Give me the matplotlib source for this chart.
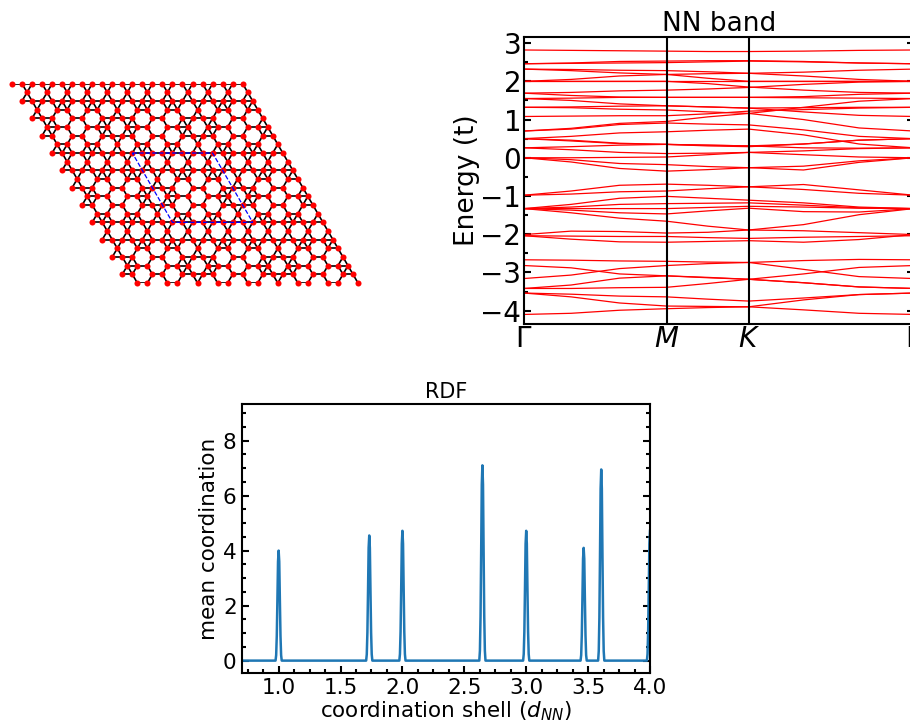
import numpy as np
import matplotlib
matplotlib.use("Agg")
import matplotlib.pyplot as plt
from matplotlib.collections import LineCollection
from matplotlib.ticker import MultipleLocator

# lattice: occupied columns of each row of the 8x8 supercell
cell_rows = [
    [0, 1, 2, 3, 4, 5, 6, 7],
    [1, 3, 5, 7],
    [0, 1, 2, 3, 4, 5, 6, 7],
    [1, 3, 4, 6, 7],
    [0, 1, 2, 4, 5, 7],
    [1, 2, 3, 5, 6, 7],
    [0, 1, 3, 4, 6, 7],
    [1, 2, 4, 5, 7],
]
n_rows = 24
n_cols = 24
cell_box = [(8, 8), (8, 16), (16, 16), (16, 8), (8, 8)]

# band structure, read at these k positions
k_path = [0, 0.33, 0.67, 1, 1.29, 1.577, 1.96, 2.35, 2.732]
k_ticks = [0, 1, 1.577, 2.732]
k_labels = [r"$\Gamma$", r"$M$", r"$K$", r"$\Gamma$"]

band_01 = [2.82, 2.81, 2.80, 2.79, 2.78, 2.78, 2.79, 2.81, 2.82]
band_02 = [2.46, 2.48, 2.52, 2.53, 2.54, 2.54, 2.52, 2.48, 2.46]
band_03 = [2.46, 2.47, 2.48, 2.49, 2.51, 2.53, 2.51, 2.48, 2.46]
band_04 = [2.32, 2.31, 2.29, 2.28, 2.25, 2.21, 2.24, 2.29, 2.32]
band_05 = [2.32, 2.28, 2.22, 2.18, 2.08, 2.00, 2.00, 2.00, 2.00]
band_06 = [2.00, 2.05, 2.14, 2.18, 2.20, 2.21, 2.14, 2.05, 2.00]
band_07 = [2.00, 2.00, 2.00, 2.00, 2.00, 2.00, 2.00, 2.00, 2.00]
band_08 = [2.00, 2.00, 2.00, 2.00, 1.94, 1.85, 1.77, 1.71, 1.69]
band_09 = [1.69, 1.71, 1.75, 1.77, 1.80, 1.84, 1.92, 1.98, 2.00]
band_10 = [1.69, 1.63, 1.59, 1.58, 1.58, 1.58, 1.60, 1.66, 1.69]
band_11 = [1.55, 1.56, 1.58, 1.58, 1.58, 1.58, 1.57, 1.56, 1.55]
band_12 = [1.55, 1.50, 1.41, 1.36, 1.33, 1.30, 1.20, 1.11, 1.08]
band_13 = [1.32, 1.33, 1.35, 1.36, 1.33, 1.30, 1.31, 1.32, 1.32]
band_14 = [1.32, 1.31, 1.27, 1.25, 1.20, 1.16, 1.32, 1.48, 1.55]
band_15 = [1.08, 1.09, 1.10, 1.10, 1.15, 1.22, 1.26, 1.30, 1.32]
band_16 = [0.70, 0.77, 0.90, 0.95, 1.07, 1.16, 1.00, 0.78, 0.70]
band_17 = [0.70, 0.75, 0.87, 0.91, 0.88, 0.86, 0.73, 0.56, 0.50]
band_18 = [0.50, 0.56, 0.65, 0.68, 0.72, 0.75, 0.60, 0.36, 0.26]
band_19 = [0.50, 0.46, 0.38, 0.35, 0.33, 0.31, 0.36, 0.46, 0.50]
band_20 = [0.26, 0.29, 0.33, 0.35, 0.33, 0.31, 0.26, 0.25, 0.26]
band_21 = [0.50, 0.44, 0.37, 0.35, 0.31, 0.29, 0.36, 0.46, 0.50]
band_22 = [0.26, 0.21, 0.14, 0.11, 0.12, 0.14, 0.08, 0.02, 0.00]
band_23 = [0.00, 0.00, 0.01, 0.02, 0.08, 0.14, 0.18, 0.24, 0.26]
band_24 = [0.00, -0.05, -0.15, -0.18, -0.23, -0.26, -0.22, -0.08, 0.00]
band_25 = [0.00, -0.11, -0.28, -0.35, -0.31, -0.26, -0.32, -0.12, 0.00]
band_26 = [-0.98, -0.87, -0.72, -0.69, -0.72, -0.76, -0.70, -0.84, -0.98]
band_27 = [-0.98, -0.95, -0.89, -0.87, -0.81, -0.76, -0.83, -0.93, -0.98]
band_28 = [-1.33, -1.22, -1.06, -1.01, -1.06, -1.11, -1.18, -1.29, -1.33]
band_29 = [-1.33, -1.29, -1.22, -1.20, -1.19, -1.18, -1.24, -1.31, -1.33]
band_30 = [-1.33, -1.33, -1.33, -1.33, -1.30, -1.27, -1.29, -1.32, -1.33]
band_31 = [-1.33, -1.37, -1.44, -1.47, -1.39, -1.32, -1.41, -1.42, -1.33]
band_32 = [-1.33, -1.44, -1.58, -1.66, -1.79, -1.89, -1.75, -1.49, -1.33]
band_33 = [-2.01, -1.92, -1.93, -1.97, -1.95, -1.89, -1.91, -1.96, -2.01]
band_34 = [-2.04, -2.05, -2.06, -2.06, -2.09, -2.11, -2.08, -2.06, -2.04]
band_35 = [-2.04, -2.13, -2.20, -2.21, -2.19, -2.17, -2.21, -2.14, -2.01]
band_36 = [-2.67, -2.68, -2.70, -2.71, -2.73, -2.74, -2.69, -2.66, -2.67]
band_37 = [-2.82, -2.88, -3.04, -3.09, -3.14, -3.18, -3.04, -2.87, -2.82]
band_38 = [-3.16, -3.07, -2.90, -2.82, -2.77, -2.74, -2.92, -3.11, -3.16]
band_39 = [-3.42, -3.33, -3.15, -3.09, -3.13, -3.18, -3.27, -3.38, -3.42]
band_40 = [-3.42, -3.42, -3.40, -3.39, -3.29, -3.18, -3.27, -3.38, -3.42]
band_41 = [-3.54, -3.57, -3.62, -3.64, -3.70, -3.75, -3.67, -3.58, -3.54]
band_42 = [-3.54, -3.64, -3.80, -3.88, -3.89, -3.90, -3.72, -3.58, -3.54]
band_43 = [-4.10, -4.07, -3.99, -3.95, -3.92, -3.90, -3.98, -4.07, -4.10]
bands = [band_01, band_02, band_03, band_04, band_05, band_06, band_07, band_08, band_09,
         band_10, band_11, band_12, band_13, band_14, band_15, band_16, band_17, band_18,
         band_19, band_20, band_21, band_22, band_23, band_24, band_25, band_26, band_27,
         band_28, band_29, band_30, band_31, band_32, band_33, band_34, band_35, band_36,
         band_37, band_38, band_39, band_40, band_41, band_42, band_43]

# radial distribution
rdf_x = [0.70, 0.975, 0.98, 0.985, 0.99, 0.995, 1.000, 1.005, 1.01, 1.015, 1.02, 1.025,
         1.707, 1.712, 1.717, 1.722, 1.727, 1.732, 1.737, 1.742, 1.747, 1.752, 1.757,
         1.975, 1.98, 1.985, 1.99, 1.995, 2.000, 2.005, 2.01, 2.015, 2.02, 2.025,
         2.621, 2.626, 2.631, 2.636, 2.641, 2.646, 2.651, 2.656, 2.661, 2.666, 2.671,
         2.975, 2.98, 2.985, 2.99, 2.995, 3.000, 3.005, 3.01, 3.015, 3.02, 3.025,
         3.439, 3.444, 3.449, 3.454, 3.459, 3.464, 3.469, 3.474, 3.479, 3.484, 3.489,
         3.581, 3.586, 3.591, 3.596, 3.601, 3.606, 3.611, 3.616, 3.621, 3.626, 3.631,
         3.975, 3.98, 3.985, 3.99, 3.995, 4.000]
rdf_y = [0, 0, 0.20, 0.90, 2.20, 3.60, 4.00, 3.60, 2.20, 0.90, 0.20, 0,
         0, 0.23, 1.02, 2.50, 4.10, 4.55, 4.10, 2.50, 1.02, 0.23, 0,
         0, 0.24, 1.06, 2.60, 4.25, 4.72, 4.25, 2.60, 1.06, 0.24, 0,
         0, 0.36, 1.60, 3.90, 6.40, 7.10, 6.40, 3.90, 1.60, 0.36, 0,
         0, 0.24, 1.06, 2.60, 4.25, 4.72, 4.25, 2.60, 1.06, 0.24, 0,
         0, 0.20, 0.92, 2.25, 3.70, 4.10, 3.70, 2.25, 0.92, 0.20, 0,
         0, 0.35, 1.56, 3.80, 6.25, 6.95, 6.25, 3.80, 1.56, 0.35, 0,
         0, 0.24, 1.06, 2.60, 4.25, 4.72]

W, H = 910, 725


def px_axes(fig, left, top, right, bottom):
    return fig.add_axes([left / W, 1 - bottom / H, (right - left) / W, (bottom - top) / H])


def style_axes(ax, size):
    ax.tick_params(which="major", direction="in", length=5, width=1.5, labelsize=size,
                   left=True, right=True, bottom=True, top=False)
    ax.tick_params(which="minor", direction="in", length=3, width=1.5,
                   left=True, right=True, bottom=True, top=False)
    for s in ax.spines.values():
        s.set_linewidth(1.5)


fig = plt.figure(figsize=(W / 100, H / 100), dpi=100)

# lattice
ax0 = px_axes(fig, 12, 83.7, 358, 283)
sites = []
for r in range(n_rows):
    for c in range(n_cols):
        if c % 8 in cell_rows[r % 8]:
            sites.append((c + r / 2, -r * np.sqrt(3) / 2))
sites = np.array(sites)
dist = np.hypot(sites[:, None, 0] - sites[None, :, 0], sites[:, None, 1] - sites[None, :, 1])
i_idx, j_idx = np.where(np.triu(np.abs(dist - 1) < 0.01))
segs = [(sites[i], sites[j]) for i, j in zip(i_idx, j_idx)]
ax0.add_collection(LineCollection(segs, colors="k", linewidths=1.2, zorder=1))
ax0.scatter(sites[:, 0], sites[:, 1], s=19, c="red", linewidths=0, zorder=2, clip_on=False)
box = np.array([(c + r / 2, -r * np.sqrt(3) / 2) for r, c in cell_box])
ax0.plot(box[:, 0], box[:, 1], color="blue", lw=0.9, ls="--", zorder=3)
ax0.set_xlim(0, 34.5)
ax0.set_ylim(-23 * np.sqrt(3) / 2, 0)
ax0.axis("off")

# bands
ax1 = px_axes(fig, 524, 37, 913.5, 324)
for b in bands:
    ax1.plot(k_path, b, color="red", lw=0.9)
for k in k_ticks[1:-1]:
    ax1.axvline(k, color="k", lw=1.5)
ax1.set_xlim(k_ticks[0], k_ticks[-1])
ax1.set_ylim(-4.35, 3.16)
ax1.set_xticks(k_ticks)
ax1.set_xticklabels(k_labels)
ax1.yaxis.set_major_locator(MultipleLocator(1))
ax1.yaxis.set_minor_locator(MultipleLocator(0.5))
style_axes(ax1, 20)
ax1.tick_params(axis="x", which="major", length=0, pad=1)
ax1.tick_params(axis="y", which="major", pad=2)
ax1.set_ylabel("Energy (t)", fontsize=19, labelpad=0)
ax1.set_title("NN band", fontsize=19, pad=3)

# rdf
ax2 = px_axes(fig, 241.5, 404, 650, 673)
ax2.plot(rdf_x, rdf_y, color="tab:blue", lw=1.8)
ax2.set_xlim(0.7, 4.0)
ax2.set_ylim(-0.45, 9.33)
ax2.xaxis.set_major_locator(MultipleLocator(0.5))
ax2.xaxis.set_minor_locator(MultipleLocator(0.125))
ax2.yaxis.set_major_locator(MultipleLocator(2))
ax2.yaxis.set_minor_locator(MultipleLocator(0.5))
style_axes(ax2, 15.5)
ax2.set_xlabel(r"coordination shell ($d_{NN}$)", fontsize=15.5, labelpad=1)
ax2.set_ylabel("mean coordination", fontsize=15.5, labelpad=3)
ax2.set_title("RDF", fontsize=15, pad=4)

fig.savefig("out.png", dpi=100)
